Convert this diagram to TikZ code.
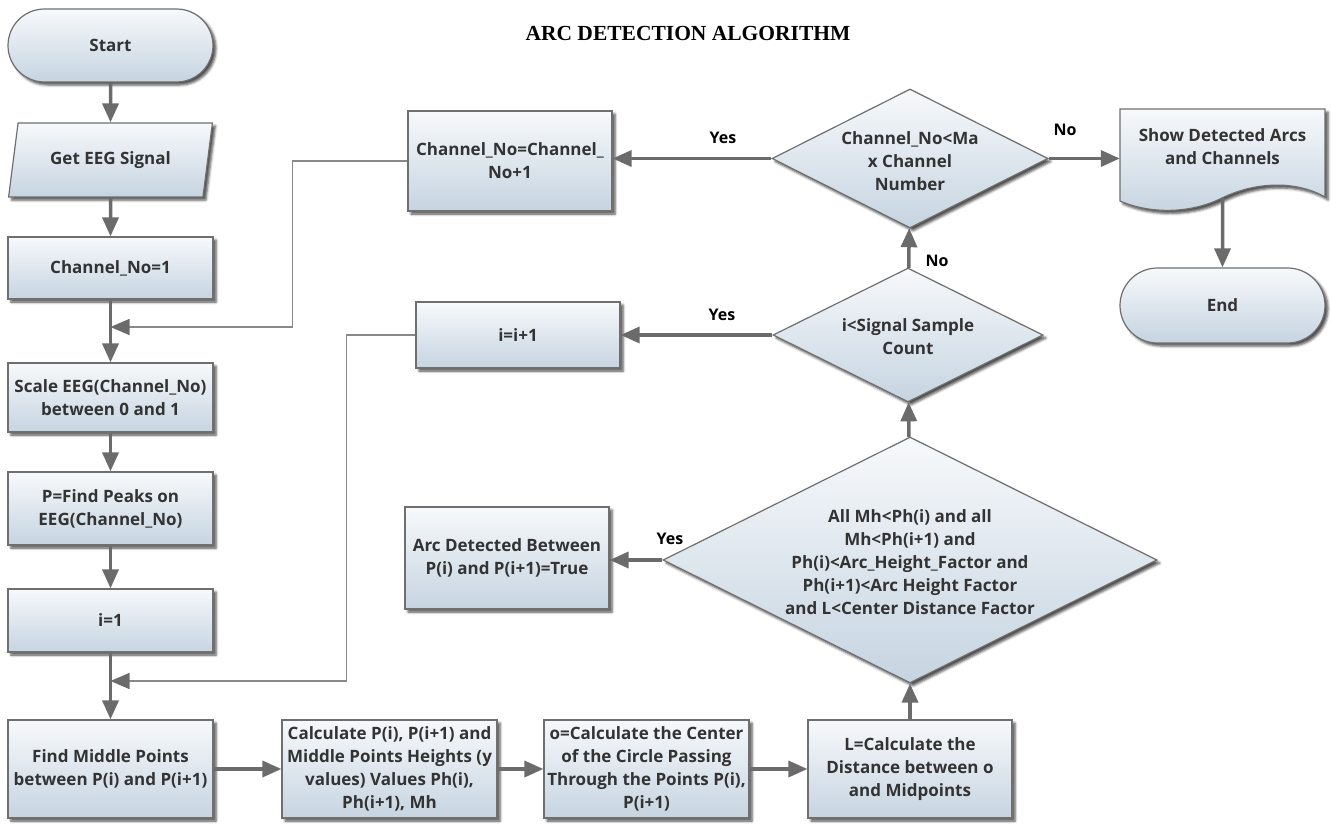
\documentclass[tikz,border=0pt]{standalone}
\usepackage{fontspec}
\setmainfont{Liberation Serif}
\newfontfamily\flowfont{Open Sans}
\usetikzlibrary{arrows.meta,shapes.geometric,shapes.misc,shadows.blur}

\definecolor{edgegray}{HTML}{6F6F6F}
\definecolor{wiregray}{HTML}{6B6B6B}
\definecolor{loopgray}{HTML}{888888}
\definecolor{shadetop}{HTML}{F7F9FB}
\definecolor{shadebot}{HTML}{C6D4E1}
\definecolor{inkgray}{HTML}{333333}

\tikzset{
  boxtext/.style={font=\flowfont\bfseries\fontsize{17}{23}\selectfont, text=inkgray, align=center},
  solid shape/.style={draw=edgegray, line width=1.2pt, top color=shadetop, bottom color=shadebot,
    blur shadow={shadow xshift=3pt, shadow yshift=-3pt, shadow blur radius=2.5pt, shadow opacity=70}},
  procbox/.style={solid shape, boxtext, rectangle, inner sep=0pt},
  termbox/.style={solid shape, boxtext, rounded rectangle, inner sep=0pt},
  iobox/.style={solid shape, boxtext, trapezium, trapezium left angle=70, trapezium right angle=110,
    trapezium stretches=true, inner sep=0pt},
  decision/.style={solid shape, diamond, inner sep=0pt},
  flow/.style={draw=wiregray, line width=3.5pt, -{Triangle[length=19pt,width=16pt]}},
  loopline/.style={draw=loopgray, line width=1.6pt, -{Triangle[length=19pt,width=16pt,color=wiregray]}},
  answer/.style={font=\flowfont\bfseries\fontsize{16}{18}\selectfont, text=black},
}

\begin{document}
\begin{tikzpicture}[x=1pt,y=-1pt]
\useasboundingbox (0,0) rectangle (1331,824);

% heading
\node[font=\bfseries\fontsize{21.5}{26}\selectfont, text=black] (title) at (688,33) {ARC DETECTION ALGORITHM};

% left column
\node[termbox, minimum width=205, minimum height=73] (start) at (110.5,45.5) {Start};
\node[iobox, minimum width=204, minimum height=74] (get) at (110.5,160) {Get EEG Signal};
\node[procbox, minimum width=205, minimum height=62] (ch1) at (110.5,268) {Channel\_No=1};
\node[procbox, minimum width=205, minimum height=69] (scale) at (110.5,397.5) {Scale EEG(Channel\_No)\\between 0 and 1};
\node[procbox, minimum width=205, minimum height=73] (peaks) at (110.5,508.5) {P=Find Peaks on\\EEG(Channel\_No)};
\node[procbox, minimum width=205, minimum height=63] (i1) at (110.5,620.5) {i=1};

% bottom row
\node[procbox, minimum width=205, minimum height=98] (mid) at (110.5,769) {Find Middle Points\\between P(i) and P(i+1)};
\node[procbox, minimum width=215, minimum height=98] (calc) at (389.5,769) {Calculate P(i), P(i+1) and\\Middle Points Heights (y\\values) Values Ph(i),\\Ph(i+1), Mh};
\node[procbox, minimum width=205, minimum height=98] (ctr) at (646.5,769) {o=Calculate the Center\\of the Circle Passing\\Through the Points P(i),\\P(i+1)};
\node[procbox, minimum width=204, minimum height=98] (dist) at (910,769) {L=Calculate the\\Distance between o\\and Midpoints};

% decisions
\node[decision, minimum width=494, minimum height=246] (big) at (910,560) {};
\node[boxtext] (bigtext) at (910,562) {All Mh<Ph(i) and all\\Mh<Ph(i+1) and\\Ph(i)<Arc\_Height\_Factor and\\Ph(i+1)<Arc Height Factor\\and L<Center Distance Factor};
\node[decision, minimum width=270, minimum height=134] (d2) at (908,335) {};
\node[boxtext] (d2text) at (908,337) {i<Signal Sample\\Count};
\node[decision, minimum width=276, minimum height=139] (d1) at (910,158.5) {};
\node[boxtext] (d1text) at (910,161) {Channel\_No<Ma\\x Channel\\Number};

% middle column
\node[procbox, minimum width=204, minimum height=102] (arc) at (507,558) {Arc Detected Between\\P(i) and P(i+1)=True};
\node[procbox, minimum width=204, minimum height=66] (iinc) at (518,335) {i=i+1};
\node[procbox, minimum width=204, minimum height=100] (chinc) at (510,161) {Channel\_No=Channel\_\\No+1};

% output document and end
\path[solid shape] (1120,109) -- (1325,109) -- (1325,197)
  .. controls (1295,180) and (1255,182) .. (1222,198)
  .. controls (1190,214) and (1150,214) .. (1120,201) -- cycle;
\node[minimum width=205, minimum height=89, inner sep=0pt] (show) at (1222.5,153.5) {};
\node[boxtext] (showtext) at (1222.5,147) {Show Detected Arcs\\and Channels};
\node[termbox, minimum width=205, minimum height=75] (end) at (1222.5,305.5) {End};

% main flow
\draw[flow] (start) -- (get);
\draw[flow] (get) -- (ch1);
\draw[flow] (ch1) -- (scale);
\draw[flow] (scale) -- (peaks);
\draw[flow] (peaks) -- (i1);
\draw[flow] (i1) -- (mid);
\draw[flow] (mid) -- (calc);
\draw[flow] (calc) -- (ctr);
\draw[flow] (ctr) -- (dist);
\draw[flow] (dist) -- (big);
\draw[flow] (big) -- (d2);
\draw[flow] (d2) -- (d1);
\draw[flow] (big.west) -- (big.west -| arc.east);
\draw[flow] (d2.west) -- (d2.west -| iinc.east);
\draw[flow] (d1.west) -- (d1.west -| chinc.east);
\draw[flow] (d1.east) -- (d1.east -| show.west);
\draw[flow] (show.south) -- (end);

% loop-back lines
\coordinate (join1) at (110.5,327);
\coordinate (join2) at (110.5,681);
\draw[loopline] (chinc.west) -- ++(-115,0) |- (join1);
\draw[loopline] (iinc.west) -- ++(-69,0) |- (join2);

% branch answers
\node[answer] (yes1) at (723,138) {Yes};
\node[answer] (no1) at (1065,130) {No};
\node[answer] (no2) at (937,261) {No};
\node[answer] (yes2) at (722,315) {Yes};
\node[answer] (yes3) at (670,539) {Yes};
\end{tikzpicture}
\end{document}
